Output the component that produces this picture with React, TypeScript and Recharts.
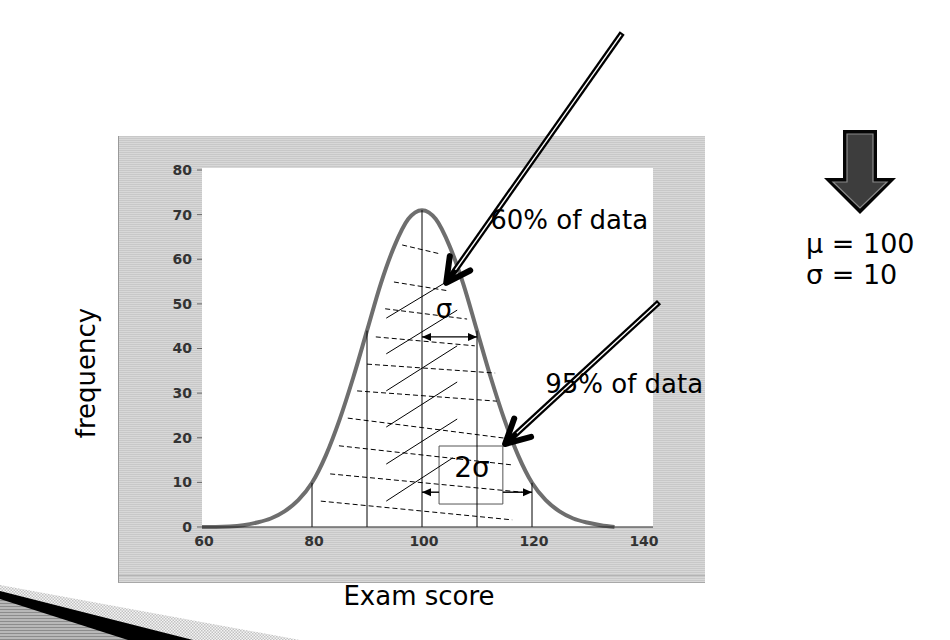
import { LineChart, Line, XAxis, YAxis, ReferenceLine, ReferenceDot, ReferenceArea } from 'recharts';

const FONT = '"DejaVu Sans", "Noto Sans", sans-serif';

// bell curve of exam scores (mean 100, sd 10)
const scores = [
  60, 62.5, 65, 67.5, 70, 72.5, 75, 77.5, 80, 82.5, 85, 87.5, 90, 92.5, 95, 97.5, 100,
  102.5, 105, 107.5, 110, 112.5, 115, 117.5, 120, 122.5, 125, 127.5, 130, 132.5, 135,
];
const frequency = [
  0, 0, 0.1, 0.4, 1.0, 1.9, 3.5, 6.0, 9.9, 16.0, 24.0, 33.5, 44.0, 54.5, 63.0, 69.0, 71.0,
  69.0, 63.0, 54.5, 44.0, 33.5, 24.0, 16.0, 9.9, 6.0, 3.5, 1.9, 1.0, 0.4, 0,
];

const xTicks = [60, 80, 100, 120, 140];
const yTicks = [0, 10, 20, 30, 40, 50, 60, 70, 80];

// sigma boundaries drawn as verticals up to the curve
const sigmaScores = [80, 90, 100, 110, 120];

// [x1, y1, x2, y2] in score / frequency units
const dashedSegments = [
  [96.4, 63.2, 103.3, 61.2],
  [94.9, 54.9, 104.9, 52.9],
  [93.3, 48.9, 108.2, 46.6],
  [91.6, 42.6, 109.6, 40.6],
  [90.0, 36.5, 113.3, 34.5],
  [88.2, 30.5, 113.6, 28.2],
  [86.5, 24.4, 115.1, 19.9],
  [84.9, 18.2, 116.5, 13.9],
  [83.3, 11.9, 118.2, 7.8],
  [81.6, 5.8, 116.4, 1.6],
];
const hatchSegments = [
  [93.5, 46.8, 104.4, 54.9],
  [93.5, 38.8, 106.4, 48.6],
  [93.5, 30.5, 106.4, 40.6],
  [93.5, 22.4, 106.4, 32.5],
  [93.5, 14.1, 106.4, 24.2],
  [93.5, 5.8, 105.6, 15.5],
];

// pointer arrows: tail -> tip
const pointerArrows = [
  [136.4, 110.7, 104.4, 54.7],
  [143.1, 50.4, 115.1, 18.6],
];

const annotations = [
  { text: '60% of data', x: 112.4, y: 66.8, anchor: 'start', size: 26 },
  { text: '95% of data', x: 122.4, y: 30.0, anchor: 'start', size: 26 },
  { text: 'σ', x: 104.0, y: 46.8, anchor: 'middle', size: 26 },
  { text: '2σ', x: 109.1, y: 11.2, anchor: 'middle', size: 28 },
];

const twoSigmaBox = { x1: 103.1, x2: 114.7, y1: 5.15, y2: 18.15 };

function pointerArrow(p: any) {
  const { x1, y1, x2, y2 } = p;
  const len = Math.hypot(x2 - x1, y2 - y1);
  const ux = (x2 - x1) / len;
  const uy = (y2 - y1) / len;
  const wing = 27;
  const spread = 0.48;
  const wingEnd = (a: number) => {
    const bx = -ux;
    const by = -uy;
    return [
      x2 + wing * (bx * Math.cos(a) - by * Math.sin(a)),
      y2 + wing * (bx * Math.sin(a) + by * Math.cos(a)),
    ];
  };
  const [ax, ay] = wingEnd(spread);
  const [cx, cy] = wingEnd(-spread);
  return (
    <g>
      <line x1={x1} y1={y1} x2={x2 - ux * 3} y2={y2 - uy * 3} stroke="#000" strokeWidth={6} />
      <line
        x1={x1 + ux * 2}
        y1={y1 + uy * 2}
        x2={x2 - ux * 16}
        y2={y2 - uy * 16}
        stroke="#fff"
        strokeWidth={1.4}
      />
      <polyline
        points={`${ax},${ay} ${x2},${y2} ${cx},${cy}`}
        fill="none"
        stroke="#000"
        strokeWidth={6}
        strokeLinejoin="round"
        strokeLinecap="round"
      />
    </g>
  );
}

const dimensionArrow = (startHead: boolean, endHead: boolean) => (p: any) => {
  const { x1, y1, x2, y2 } = p;
  const dir = x2 > x1 ? 1 : -1;
  const head = (x: number, y: number, s: number) =>
    `${x},${y} ${x + s * 9},${y - 4} ${x + s * 9},${y + 4}`;
  return (
    <g>
      <line x1={x1} y1={y1} x2={x2} y2={y2} stroke="#000" strokeWidth={1.4} />
      {startHead && <polygon points={head(x1, y1, dir)} fill="#000" />}
      {endHead && <polygon points={head(x2, y2, -dir)} fill="#000" />}
    </g>
  );
};

const tickStyle = { fontFamily: FONT, fontSize: 14, fontWeight: 600, fill: '#333' };

export default function App() {
  const data = scores.map((score, i) => ({ score, freq: frequency[i] }));
  const freqAt = (s: number) => frequency[scores.indexOf(s)];

  return (
    <div
      style={{
        position: 'absolute',
        left: 0,
        top: 0,
        width: 950,
        height: 640,
        background: '#fff',
        overflow: 'hidden',
      }}
    >
      {/* figure window */}
      <div
        style={{
          position: 'absolute',
          left: 118,
          top: 136,
          width: 587,
          height: 447,
          boxSizing: 'border-box',
          borderLeft: '1px solid #9a9a9a',
          borderBottom: '1px solid #a8a8a8',
          background:
            'repeating-linear-gradient(to bottom, #c8c8c8 0px, #c8c8c8 1px, #d8d8d8 1px, #d8d8d8 2px)',
        }}
      />
      <div style={{ position: 'absolute', left: 119, top: 575, width: 586, height: 1, background: '#b4b4b4' }} />
      <div style={{ position: 'absolute', left: 202, top: 168, width: 451, height: 359, background: '#fff' }} />

      <div style={{ position: 'absolute', left: 0, top: 0 }}>
        <LineChart
          width={950}
          height={640}
          data={data}
          margin={{ top: 170, right: 297, bottom: 83, left: 0 }}
        >
          <XAxis
            dataKey="score"
            type="number"
            domain={[60, 142]}
            ticks={xTicks}
            height={30}
            axisLine={{ stroke: '#222', strokeWidth: 1.2 }}
            tickLine={false}
            tickSize={6}
            tickMargin={3}
            tick={{ ...tickStyle, dx: 2 }}
          />
          <YAxis
            type="number"
            domain={[0, 80]}
            ticks={yTicks}
            width={202}
            axisLine={false}
            tickLine={{ stroke: '#666' }}
            tickSize={5}
            tickMargin={5}
            tick={tickStyle}
          />
          <Line
            dataKey="freq"
            type="monotone"
            stroke="#6e6e6e"
            strokeWidth={4}
            dot={false}
            isAnimationActive={false}
          />

          {sigmaScores.map((s) => (
            <ReferenceLine
              key={`v${s}`}
              segment={[{ x: s, y: 0 }, { x: s, y: freqAt(s) }]}
              stroke="#000"
              strokeWidth={1}
              ifOverflow="visible"
            />
          ))}
          {dashedSegments.map(([ax, ay, bx, by], i) => (
            <ReferenceLine
              key={`d${i}`}
              segment={[{ x: ax, y: ay }, { x: bx, y: by }]}
              stroke="#000"
              strokeWidth={1}
              strokeDasharray="5 3"
              ifOverflow="visible"
            />
          ))}
          {hatchSegments.map(([ax, ay, bx, by], i) => (
            <ReferenceLine
              key={`h${i}`}
              segment={[{ x: ax, y: ay }, { x: bx, y: by }]}
              stroke="#000"
              strokeWidth={1}
              ifOverflow="visible"
            />
          ))}

          <ReferenceArea
            x1={twoSigmaBox.x1}
            x2={twoSigmaBox.x2}
            y1={twoSigmaBox.y1}
            y2={twoSigmaBox.y2}
            fill="none"
            stroke="#555"
            strokeWidth={1}
            ifOverflow="visible"
          />

          {/* one sigma span */}
          <ReferenceLine
            segment={[{ x: 100, y: 42.6 }, { x: 110, y: 42.6 }]}
            shape={dimensionArrow(true, true)}
            ifOverflow="visible"
          />
          {/* two sigma span, broken by the label box */}
          <ReferenceLine
            segment={[{ x: 100, y: 7.8 }, { x: twoSigmaBox.x1, y: 7.8 }]}
            shape={dimensionArrow(true, false)}
            ifOverflow="visible"
          />
          <ReferenceLine
            segment={[{ x: twoSigmaBox.x2, y: 7.8 }, { x: 120, y: 7.8 }]}
            shape={dimensionArrow(false, true)}
            ifOverflow="visible"
          />

          {annotations.map((a) => (
            <ReferenceDot
              key={a.text}
              x={a.x}
              y={a.y}
              r={0}
              ifOverflow="visible"
              shape={(p: any) => (
                <text
                  x={p.cx}
                  y={p.cy}
                  textAnchor={a.anchor}
                  fontFamily={FONT}
                  fontSize={a.size}
                  fill="#000"
                >
                  {a.text}
                </text>
              )}
            />
          ))}

          {pointerArrows.map(([ax, ay, bx, by], i) => (
            <ReferenceLine
              key={`p${i}`}
              segment={[{ x: ax, y: ay }, { x: bx, y: by }]}
              shape={pointerArrow}
              ifOverflow="visible"
            />
          ))}
        </LineChart>
      </div>

      <svg
        width={950}
        height={640}
        style={{ position: 'absolute', left: 0, top: 0, pointerEvents: 'none' }}
      >
        <defs>
          <pattern id="checker" width="3" height="3" patternUnits="userSpaceOnUse">
            <rect width="3" height="3" fill="#f4f4f4" />
            <rect width="1.5" height="1.5" fill="#c2c2c2" />
            <rect x="1.5" y="1.5" width="1.5" height="1.5" fill="#c2c2c2" />
          </pattern>
          <pattern id="shade" width="3" height="3" patternUnits="userSpaceOnUse">
            <rect width="3" height="3" fill="#b8b8b8" />
            <rect width="3" height="1" fill="#8c8c8c" />
          </pattern>
        </defs>

        {/* slide corner ribbon */}
        <polygon points="0,585 300,640 0,640" fill="url(#checker)" />
        <polygon points="0,591 193,640 0,640" fill="#000" />
        <polygon points="0,599 128,640 0,640" fill="url(#shade)" />

        {/* block arrow */}
        <polygon points="843,130 877,130 877,178 896,178 860,214 824,178 843,178" fill="#050505" />
        <polygon
          points="847,134 873,134 873,182 887,182 860,208 833,182 847,182"
          fill="#3d3d3d"
          stroke="#8a8a8a"
          strokeWidth={1.2}
        />

        <text x={806} y={253} fontFamily={FONT} fontSize={27} fill="#000">
          μ = 100
        </text>
        <text x={806} y={284} fontFamily={FONT} fontSize={27} fill="#000">
          σ = 10
        </text>

        <text x={419} y={605} textAnchor="middle" fontFamily={FONT} fontSize={26} fill="#000">
          Exam score
        </text>
        <text
          x={95}
          y={373}
          textAnchor="middle"
          transform="rotate(-90 95 373)"
          fontFamily={FONT}
          fontSize={26}
          fill="#000"
        >
          frequency
        </text>
      </svg>
    </div>
  );
}
